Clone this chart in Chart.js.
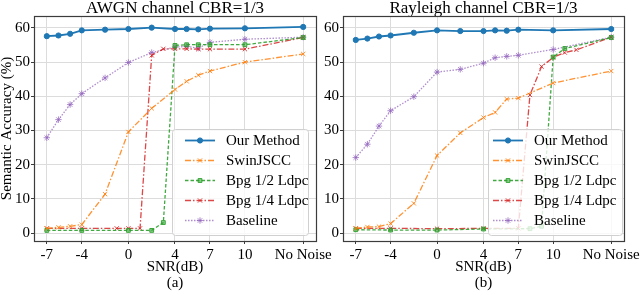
<!DOCTYPE html>
<html lang="en">
<head>
<meta charset="UTF-8">
<title>Semantic Accuracy vs SNR</title>
<script src="https://cdn.jsdelivr.net/npm/chart.js"></script>
<style>
  body { margin: 0; background: #fff; }
  #wrap { position: relative; width: 640px; height: 291px; overflow: hidden; }
  canvas { position: absolute; top: 0; }
  #awgn { left: 0; }
  #rayleigh { left: 305px; }
</style>
</head>
<body>
<div id="wrap">
  <canvas id="awgn" width="335" height="291"></canvas>
  <canvas id="rayleigh" width="335" height="291"></canvas>
</div>

<script>
// x ticks: SNR in dB, "No Noise" is placed at 15
const snrTicks = [-7, -4, 0, 4, 7, 10, 15];
const snrLabels = ['-7', '-4', '0', '4', '7', '10', 'No Noise'];
const accTicks = [0, 10, 20, 30, 40, 50, 60];
const seriesNames = ['Our Method', 'SwinJSCC', 'Bpg 1/2 Ldpc', 'Bpg 1/4 Ldpc', 'Baseline'];

// AWGN channel CBR=1/3
const ourSnrA = [-7, -6, -5, -4, -2, 0, 2, 4, 5, 6, 7, 10, 15];
const ourAccA = [57.6, 57.8, 58.3, 59.3, 59.5, 59.7, 60.1, 59.7, 59.7, 59.6, 59.8, 59.9, 60.3];
const swinSnrA = [-7, -6, -5, -4, -2, 0, 2, 4, 5, 6, 7, 10, 15];
const swinAccA = [1.4, 1.7, 2.0, 2.5, 11.4, 29.6, 36.5, 42.0, 44.4, 46.2, 47.4, 50.0, 52.4];
const bpg12SnrA = [-7, -4, 0, 2, 3, 4, 5, 6, 7, 10, 15];
const bpg12AccA = [0.8, 0.8, 0.8, 0.8, 3.1, 54.9, 55.1, 55.1, 55.1, 55.1, 57.2];
const bpg14SnrA = [-7, -4, -1, 0, 1, 2, 3, 4, 5, 6, 7, 10, 15];
const bpg14AccA = [1.4, 1.4, 1.4, 1.4, 1.4, 52.0, 53.9, 53.9, 53.9, 53.8, 53.8, 53.8, 57.2];
const baseSnrA = [-7, -6, -5, -4, -2, 0, 2, 4, 5, 6, 7, 10, 15];
const baseAccA = [27.9, 33.2, 37.6, 40.8, 45.4, 49.9, 52.8, 54.4, 54.6, 54.1, 55.8, 56.7, 57.3];

// Rayleigh channel CBR=1/3
const ourSnrB = [-7, -6, -5, -4, -2, 0, 2, 4, 5, 6, 7, 10, 15];
const ourAccB = [56.5, 56.9, 57.5, 57.8, 58.6, 59.3, 59.1, 59.1, 59.3, 59.2, 59.5, 59.3, 59.7];
const swinSnrB = [-7, -6, -5, -4, -2, 0, 2, 4, 5, 6, 7, 10, 15];
const swinAccB = [1.4, 1.8, 1.9, 2.8, 8.7, 22.7, 29.3, 33.8, 35.3, 39.2, 39.5, 43.9, 47.4];
const bpg12SnrB = [-7, -4, 0, 4, 8, 9, 10, 11, 15];
const bpg12AccB = [1.0, 0.9, 0.9, 1.2, 1.3, 2.0, 51.5, 54.0, 57.2];
const bpg14SnrB = [-7, -4, 0, 4, 7, 8, 9, 10, 11, 12, 15];
const bpg14AccB = [1.4, 1.4, 1.3, 1.4, 1.4, 40.4, 48.7, 51.4, 52.8, 53.6, 57.3];
const baseSnrB = [-7, -6, -5, -4, -2, 0, 2, 4, 5, 6, 7, 10, 15];
const baseAccB = [22.1, 26.0, 31.3, 35.8, 39.9, 47.1, 47.9, 49.7, 51.3, 51.7, 52.0, 53.7, 57.3];

const styles = [
  { borderColor: '#1f77b4', backgroundColor: '#1f77b4', borderWidth: 1.8, pointStyle: 'circle', pointRadius: 2.6 },
  { borderColor: 'rgba(255,127,14,0.85)', backgroundColor: 'rgba(255,127,14,0.85)', borderWidth: 1.3, borderDash: [6, 2, 1.5, 2], pointStyle: 'crossRot', pointRadius: 3 },
  { borderColor: 'rgba(44,160,44,0.9)', backgroundColor: 'rgba(44,160,44,0.55)', borderWidth: 1.3, borderDash: [3.5, 2], pointStyle: 'rect', pointRadius: 2.7 },
  { borderColor: 'rgba(214,39,40,0.85)', backgroundColor: 'rgba(214,39,40,0.85)', borderWidth: 1.3, borderDash: [6, 2, 1.5, 2], pointStyle: 'crossRot', pointRadius: 3 },
  { borderColor: 'rgba(148,103,189,0.75)', backgroundColor: 'rgba(148,103,189,0.75)', borderWidth: 1.3, borderDash: [1.5, 1.5], pointStyle: 'star', pointRadius: 3.2 }
];

const serif = '"Liberation Serif", "Times New Roman", serif';

function makeSet(i, xs, ys) {
  const st = styles[i];
  return {
    label: seriesNames[i],
    data: xs.map((x, k) => ({ x: x, y: ys[k] })),
    borderColor: st.borderColor,
    backgroundColor: st.backgroundColor,
    borderWidth: st.borderWidth,
    borderDash: st.borderDash || [],
    pointStyle: st.pointStyle,
    pointRadius: st.pointRadius,
    pointHoverRadius: st.pointRadius,
    pointBorderColor: st.borderColor,
    pointBackgroundColor: st.backgroundColor,
    pointBorderWidth: 1,
    tension: 0
  };
}

// frame, title and legend box drawn over the plot
const panelDeco = {
  id: 'panelDeco',
  afterDraw(chart, args, opts) {
    const ctx = chart.ctx;
    const a = chart.chartArea;
    ctx.save();
    ctx.fillStyle = '#000';
    ctx.font = '17px ' + serif;
    ctx.textAlign = 'center';
    ctx.textBaseline = 'middle';
    ctx.fillText(opts.title, (a.left + a.right) / 2, 8.5);

    ctx.strokeStyle = '#3c3c3c';
    ctx.lineWidth = 1.2;
    ctx.strokeRect(a.left + 0.5, a.top + 0.5, a.right - a.left, a.bottom - a.top);

    const L = opts.legend;
    ctx.beginPath();
    ctx.roundRect(L.x + 0.5, L.y + 0.5, L.w, L.h, 3);
    ctx.fillStyle = 'rgba(255,255,255,0.8)';
    ctx.fill();
    ctx.strokeStyle = '#d0d0d0';
    ctx.lineWidth = 1;
    ctx.stroke();

    chart.data.datasets.forEach((ds, i) => {
      const y = L.y + 11.5 + i * 20;
      ctx.strokeStyle = ds.borderColor;
      ctx.lineWidth = ds.borderWidth;
      ctx.setLineDash(ds.borderDash);
      ctx.beginPath();
      ctx.moveTo(L.x + L.line0, y);
      ctx.lineTo(L.x + L.line0 + 30, y);
      ctx.stroke();
      ctx.setLineDash([]);
      ctx.fillStyle = ds.pointBackgroundColor;
      ctx.strokeStyle = ds.pointBorderColor;
      ctx.lineWidth = 1;
      Chart.helpers.drawPoint(ctx, { pointStyle: ds.pointStyle, radius: ds.pointRadius, borderWidth: 1, rotation: 0 }, L.x + L.line0 + 15, y);
      ctx.fillStyle = '#000';
      ctx.font = '15px ' + serif;
      ctx.textAlign = 'left';
      ctx.textBaseline = 'middle';
      ctx.fillText(ds.label, L.x + L.text0, y + 0.5);
    });
    ctx.restore();
  }
};

function makeChart(id, title, sub, yWidth, padRight, showYTitle, legend, sets) {
  return new Chart(document.getElementById(id), {
    type: 'line',
    data: { datasets: sets },
    plugins: [panelDeco],
    options: {
      responsive: false,
      animation: false,
      events: [],
      layout: { padding: { top: 16, right: padRight, left: 0, bottom: 0 } },
      plugins: {
        legend: { display: false },
        tooltip: { enabled: false },
        panelDeco: { title: title, legend: legend }
      },
      scales: {
        x: {
          type: 'linear',
          min: -8.1,
          max: 16.1,
          afterBuildTicks: s => { s.ticks = snrTicks.map(v => ({ value: v })); },
          afterFit: s => { s.height = 50; s.paddingLeft = 0; s.paddingRight = 0; },
          ticks: {
            autoSkip: false,
            maxRotation: 0,
            padding: 2,
            color: '#000',
            font: { family: serif, size: 15 },
            callback: v => snrLabels[snrTicks.indexOf(v)]
          },
          grid: { color: '#dcdcdc', lineWidth: 1, tickColor: '#3c3c3c', tickLength: 3 },
          border: { display: false },
          title: {
            display: true,
            text: ['SNR(dB)', sub],
            color: '#000',
            padding: 0,
            font: { family: serif, size: 15, lineHeight: '16px' }
          }
        },
        y: {
          min: -2.3,
          max: 63.5,
          afterBuildTicks: s => { s.ticks = accTicks.map(v => ({ value: v })); },
          afterFit: s => { s.width = yWidth; s.paddingTop = 0; s.paddingBottom = 0; },
          ticks: {
            padding: 1,
            color: '#000',
            font: { family: serif, size: 15 }
          },
          grid: { color: '#dcdcdc', lineWidth: 1, tickColor: '#3c3c3c', tickLength: 3 },
          border: { display: false },
          title: {
            display: showYTitle,
            text: 'Semantic Accuracy (%)',
            color: '#000',
            padding: 0,
            font: { family: serif, size: 15, lineHeight: '15px' }
          }
        }
      }
    }
  });
}

makeChart('awgn', 'AWGN channel CBR=1/3', '(a)', 34, 19, true,
  { x: 172, y: 129, w: 136, h: 106, line0: 13, text0: 54 },
  [
    makeSet(0, ourSnrA, ourAccA),
    makeSet(1, swinSnrA, swinAccA),
    makeSet(2, bpg12SnrA, bpg12AccA),
    makeSet(3, bpg14SnrA, bpg14AccA),
    makeSet(4, baseSnrA, baseAccA)
  ]);

makeChart('rayleigh', 'Rayleigh channel CBR=1/3', '(b)', 38, 16, false,
  { x: 183, y: 129, w: 134, h: 106, line0: 5, text0: 46 },
  [
    makeSet(0, ourSnrB, ourAccB),
    makeSet(1, swinSnrB, swinAccB),
    makeSet(2, bpg12SnrB, bpg12AccB),
    makeSet(3, bpg14SnrB, bpg14AccB),
    makeSet(4, baseSnrB, baseAccB)
  ]);
</script>
</body>
</html>
